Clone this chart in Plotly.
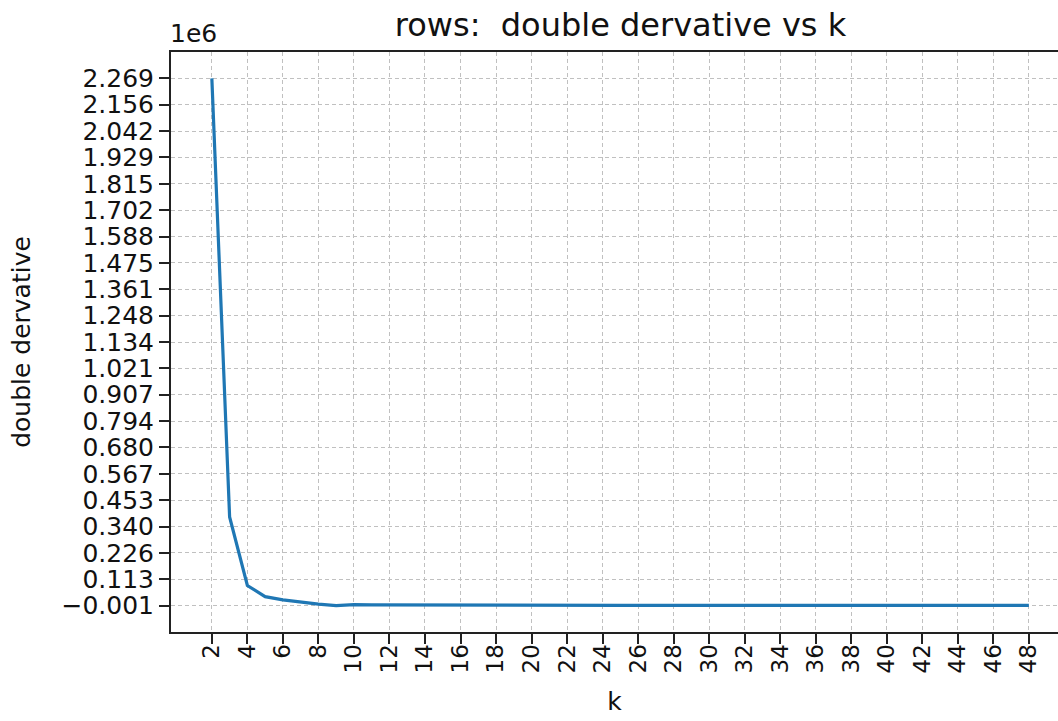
import numpy as np
import plotly.graph_objects as go

# second derivative of the within-cluster cost, by number of clusters k
k_values = list(range(2, 49))
double_derivative = [
    2269100, 381000, 86000, 38000, 24000, 14000, 6000, -700, 3500, 3000,
    2600, 2200, 1900, 1700, 1500, 1400, 1300, 1150, 1050, 1000,
    950, 900, 850, 800, 760, 720, 690, 650, 620, 600,
    570, 550, 530, 500, 480, 470, 450, 430, 420, 400,
    390, 380, 370, 360, 350, 340, 330,
]

x_ticks = list(range(2, 49, 2))
y_tick_text = [
    "\u22120.001", "0.113", "0.226", "0.340", "0.453", "0.567", "0.680",
    "0.794", "0.907", "1.021", "1.134", "1.248", "1.361", "1.475", "1.588",
    "1.702", "1.815", "1.929", "2.042", "2.156", "2.269",
]

y_min, y_max = min(double_derivative), max(double_derivative)
y_tick_vals = np.linspace(y_min, y_max, len(y_tick_text))
y_pad = 0.05 * (y_max - y_min)
x_pad = 0.05 * (max(k_values) - min(k_values))

font = "DejaVu Sans, Liberation Sans, sans-serif"

fig = go.Figure(
    go.Scatter(
        x=k_values,
        y=double_derivative,
        mode="lines",
        line=dict(color="#1f77b4", width=3.2),
        showlegend=False,
    )
)

fig.update_layout(
    width=1058,
    height=721,
    margin=dict(l=171, r=0, t=52, b=89),
    paper_bgcolor="white",
    plot_bgcolor="white",
    font=dict(family=font, color="#111111", size=25),
    title=dict(
        text="rows:  double dervative vs k",
        x=(171 + 1070) / 2 / 1058,
        xanchor="center",
        y=1 - 25 / 721,
        yanchor="middle",
        font=dict(size=32, family=font),
    ),
)

grid_style = dict(
    showgrid=True,
    gridcolor="#c0c0c0",
    gridwidth=1,
    griddash="4px,3px",
    zeroline=False,
    showline=True,
    linecolor="#222222",
    linewidth=2,
    ticks="outside",
    ticklen=10,
    tickwidth=2,
    tickcolor="#222222",
)

fig.update_xaxes(
    range=[min(k_values) - x_pad, 49.64],
    tickmode="array",
    tickvals=x_ticks,
    ticktext=[str(v) for v in x_ticks],
    tickangle=-90,
    tickfont=dict(size=23),
    ticklabelstandoff=-9,
    mirror=True,
    title=dict(text="k", font=dict(size=25), standoff=20),
    **grid_style,
)

fig.update_yaxes(
    range=[y_min - y_pad, y_max + y_pad],
    tickmode="array",
    tickvals=y_tick_vals,
    ticktext=y_tick_text,
    mirror=False,
    title=dict(text="double dervative", font=dict(size=25), standoff=24),
    **grid_style,
)

# axis offset label above the y-axis
fig.add_annotation(
    text="1e6",
    xref="paper",
    yref="paper",
    x=0,
    y=1,
    xanchor="left",
    yanchor="bottom",
    xshift=-3,
    yshift=2,
    showarrow=False,
    font=dict(size=25, family=font),
)

fig.write_html("out.html")
